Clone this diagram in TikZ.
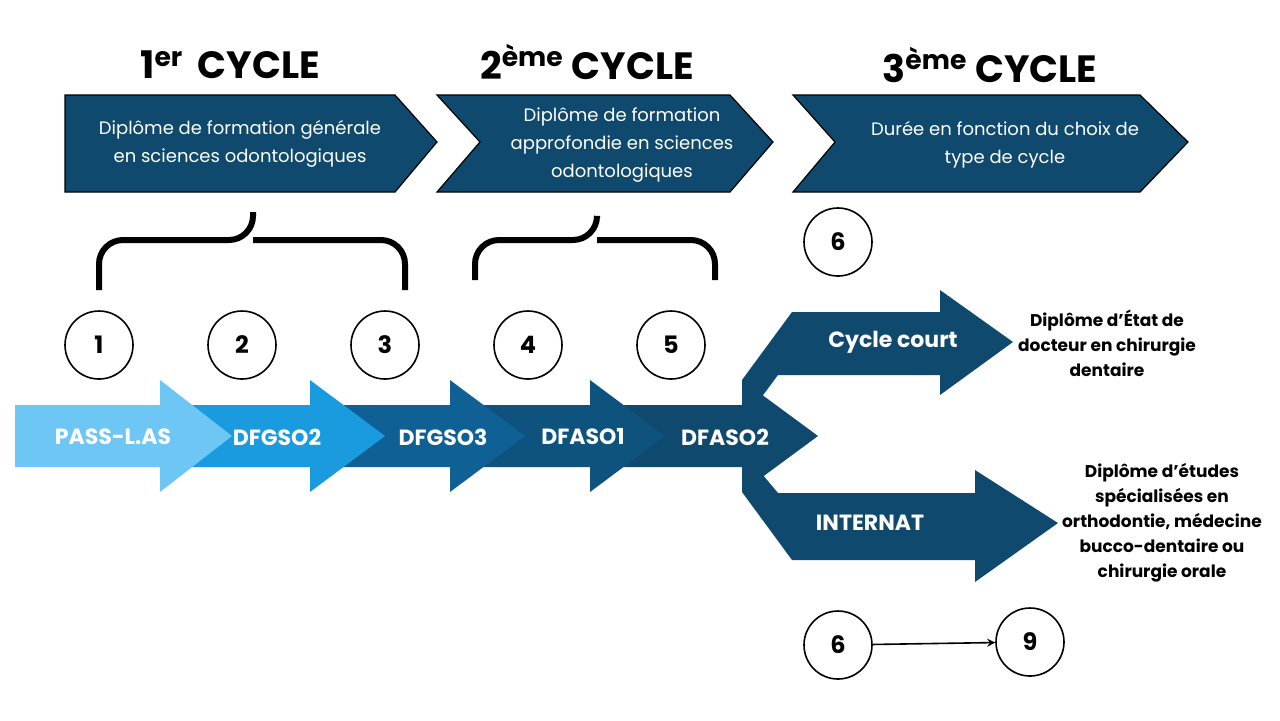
\documentclass[tikz,border=0pt]{standalone}
\usepackage{fontspec}
\setmainfont{Poppins}
\definecolor{navy}{HTML}{0F4A6E}
\definecolor{bluea}{HTML}{6EC6F5}
\definecolor{blueb}{HTML}{1A9BE0}
\definecolor{bluec}{HTML}{1474B0}
\definecolor{blued}{HTML}{0F6094}
\definecolor{bluee}{HTML}{0E527E}
\tikzset{
  head/.style={fill=navy,draw=black,line width=0.6pt},
  year/.style={circle,draw=black,line width=0.8pt,minimum size=34pt,font=\bfseries\large},
  lab/.style={text=white,font=\bfseries\fontsize{11}{13}\selectfont},
  title/.style={font=\bfseries\fontsize{19}{22}\selectfont},
  desc/.style={text=white,align=center,font=\fontsize{9}{14}\selectfont},
  note/.style={align=center,font=\bfseries\fontsize{8.5}{12.5}\selectfont},
  brace/.style={line width=3pt,rounded corners=12pt}
}
\begin{document}
\begin{tikzpicture}[x=0.5pt,y=-0.5pt]
\useasboundingbox (0,0) rectangle (1280,720);
% titles
\node[title] (t1) at (230,65) {1\textsuperscript{er}\, CYCLE};
\node[title] (t2) at (587,62) {2\textsuperscript{ème} CYCLE};
\node[title] (t3) at (990,65) {3\textsuperscript{ème} CYCLE};
% top chevrons
\draw[head] (65,95) -- (395,95) -- (437,142) -- (395,192) -- (65,192) -- cycle;
\draw[head] (437,95) -- (730,95) -- (773,142) -- (730,192) -- (437,192) -- (480,142) -- cycle;
\draw[head] (793,95) -- (1140,95) -- (1188,142) -- (1140,192) -- (793,192) -- (835,142) -- cycle;
\node[desc] (c1) at (240,144) {Diplôme de formation générale\\en sciences odontologiques};
\node[desc] (c2) at (622,145) {Diplôme de formation\\approfondie en sciences\\odontologiques};
\node[desc] (c3) at (1005,145) {Durée en fonction du choix de\\type de cycle};
% braces
\draw[brace] (99,290) -- (99,240) -- (253,240) -- (253,212);
\draw[brace] (405,290) -- (405,240) -- (253,240);
\draw[brace] (475,280) -- (475,240) -- (597,240) -- (597,218);
\draw[brace] (715,280) -- (715,240) -- (597,240);
% branches
\fill[navy] (742,380) -- (792,312) -- (940,312) -- (940,290) -- (1013,342) -- (940,395) -- (940,375) -- (778,375) -- (752,410) -- cycle;
\fill[navy] (742,492) -- (792,560) -- (975,560) -- (975,582) -- (1058,523) -- (975,470) -- (975,493) -- (778,493) -- (752,462) -- cycle;
\node[lab] (cc) at (893,342) {Cycle court};
\node[lab] (int) at (870,523) {INTERNAT};
% main chevrons
\fill[navy] (600,405) -- (742,405) -- (742,380) -- (818,436) -- (742,492) -- (742,467) -- (600,467) -- cycle;
\fill[bluee] (460,405) -- (590,405) -- (590,380) -- (665,436) -- (590,492) -- (590,467) -- (460,467) -- cycle;
\fill[blued] (320,405) -- (450,405) -- (450,380) -- (525,436) -- (450,492) -- (450,467) -- (320,467) -- cycle;
\fill[blueb] (170,405) -- (310,405) -- (310,380) -- (385,436) -- (310,492) -- (310,467) -- (170,467) -- cycle;
\fill[bluea] (15,405) -- (160,405) -- (160,380) -- (232,436) -- (160,492) -- (160,467) -- (15,467) -- cycle;
\node[lab] (a1) at (113,437) {PASS-L.AS};
\node[lab] (a2) at (277,437) {DFGSO2};
\node[lab] (a3) at (443,437) {DFGSO3};
\node[lab] (a4) at (583,437) {DFASO1};
\node[lab] (a5) at (725,437) {DFASO2};
% right notes
\node[note] (n1) at (1107,343) {Diplôme d'État de\\docteur en chirurgie\\dentaire};
\node[note] (n2) at (1162,523) {Diplôme d'études\\spécialisées en\\orthodontie, médecine\\bucco-dentaire ou\\chirurgie orale};
% years
\foreach \i/\x in {1/99,2/242,3/385,4/528,5/671}
  \node[year] (s\i) at (\x,345) {\i};
\node[year] (s6) at (838,242) {6};
\node[year] (s6b) at (838,645) {6};
\node[year] (s9) at (1030,642) {9};
\draw[->,>=stealth,line width=0.8pt] (s6b) -- (s9);
\end{tikzpicture}
\end{document}
